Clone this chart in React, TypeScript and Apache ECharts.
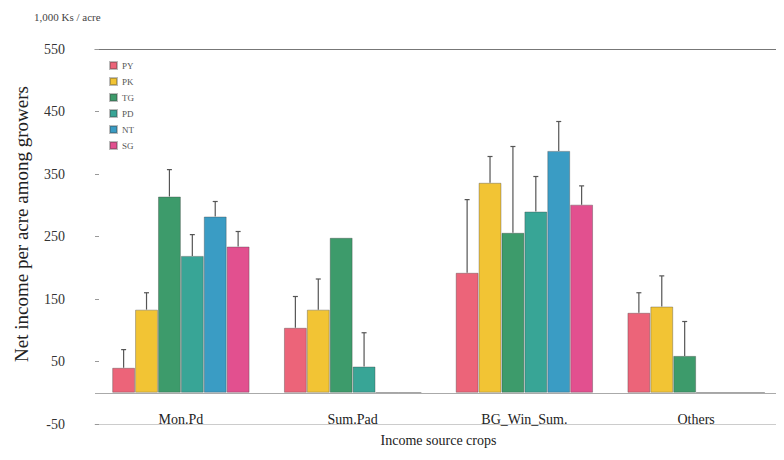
import React, { useEffect, useRef } from "react";
import * as echarts from "echarts";

const categories = ["Mon.Pd", "Sum.Pad", "BG_Win_Sum.", "Others"];
const seriesNames = ["PY", "PK", "TG", "PD", "NT", "SG"];
const colors = ["#ec6479", "#f2c434", "#3d9b6b", "#38a596", "#3a9cc4", "#e2508f"];
const yTicks = [-50, 550, 100];

// values per series, indexed by category
const PY = [40, 104, 192, 128];
const PK = [133, 133, 336, 138];
const TG = [314, 248, 256, 59];
const PD = [219, 42, 290, 0];
const NT = [282, 0, 387, 0];
const SG = [234, 0, 301, 0];
// upper end of error bars (null = none)
const PY_err = [69, 154, 309, 160];
const PK_err = [160, 182, 378, 187];
const TG_err = [357, null, 394, 114];
const PD_err = [253, 96, 346, null];
const NT_err = [306, null, 434, null];
const SG_err = [258, null, 331, null];

const values = [PY, PK, TG, PD, NT, SG];
const errs = [PY_err, PK_err, TG_err, PD_err, NT_err, SG_err];

export default function App() {
  const ref = useRef<HTMLDivElement>(null);
  useEffect(() => {
    if (!ref.current) return;
    const chart = echarts.init(ref.current, undefined, { renderer: "svg" });
    const gapFrac = 0.2;
    const errData: any[] = [];
    errs.forEach((arr, si) => {
      arr.forEach((e, ci) => {
        if (e != null) errData.push([ci, si, values[si][ci], e]);
      });
    });
    const font = "'Liberation Serif', 'DejaVu Serif', serif";
    chart.setOption({
      animation: false,
      textStyle: { fontFamily: font },
      grid: { left: 95, right: 2, top: 49, bottom: 36, outerBoundsMode: "none", containLabel: false },
      legend: {
        orient: "vertical",
        left: 104,
        top: 56,
        itemWidth: 7,
        itemHeight: 7,
        itemGap: 7,
        icon: "rect",
        textStyle: { fontSize: 9, color: "#555", fontFamily: font },
        data: seriesNames,
      },
      xAxis: [
        {
          type: "category",
          data: categories,
          axisLine: { onZero: false, show: true, lineStyle: { color: "#ccc" } },
          axisTick: { show: false },
          axisLabel: { margin: -12, fontSize: 14, color: "#222", fontFamily: font },
          name: "Income source crops",
          nameLocation: "middle",
          nameGap: 9,
          nameMoveOverlap: false,
          nameTextStyle: { fontSize: 14, color: "#222", fontFamily: font },
        },
        {
          type: "category",
          position: "top",
          data: categories,
          axisLine: { show: true, onZero: false, lineStyle: { color: "#777" } },
          axisTick: { show: false },
          axisLabel: { show: false },
        },
      ],
      yAxis: {
        type: "value",
        min: yTicks[0],
        max: yTicks[1],
        interval: yTicks[2],
        axisLine: { show: false },
        axisTick: { show: true, length: 4, inside: true, lineStyle: { color: "#999" } },
        splitLine: { show: false },
        axisLabel: { fontSize: 14, color: "#333", margin: 30, fontFamily: font },
      },
      graphic: [
        {
          type: "text",
          left: 34,
          top: 11,
          style: { text: "1,000 Ks / acre", fontSize: 11, fill: "#444", fontFamily: font },
        },
        {
          type: "text",
          x: 21,
          y: 224,
          rotation: Math.PI / 2,
          style: {
            text: "Net income per acre among growers",
            fontSize: 19,
            fill: "#222",
            fontFamily: font,
            align: "center",
            verticalAlign: "middle",
          },
        },
      ],
      series: [
        ...seriesNames.map((n, i) => ({
          name: n,
          type: "bar",
          data: values[i],
          barGap: "0%",
          barCategoryGap: gapFrac * 100 + "%",
          itemStyle: { color: colors[i], borderColor: "rgba(60,60,60,0.35)", borderWidth: 1 },
          markLine:
            i === 0
              ? {
                  silent: true,
                  symbol: "none",
                  label: { show: false },
                  lineStyle: { color: "#aaa", type: "solid", width: 1 },
                  data: [{ yAxis: 0 }],
                }
              : undefined,
        })),
        {
          type: "custom",
          data: errData,
          encode: { x: 0, y: 2 },
          z: 10,
          renderItem: (params: any, api: any) => {
            const ci = api.value(0);
            const si = api.value(1);
            const v = api.value(2);
            const e = api.value(3);
            const band = api.size([1, 0])[0];
            const bw = (band * (1 - gapFrac)) / 6;
            const c0 = api.coord([ci, v]);
            const c1 = api.coord([ci, e]);
            const x = c0[0] + (si - 2.5) * bw;
            return {
              type: "group",
              children: [
                { type: "line", shape: { x1: x, y1: c0[1], x2: x, y2: c1[1] }, style: { stroke: "#555", lineWidth: 1.2 } },
                { type: "line", shape: { x1: x - 2.5, y1: c1[1], x2: x + 2.5, y2: c1[1] }, style: { stroke: "#555", lineWidth: 1.2 } },
              ],
            };
          },
        },
      ],
    });
    return () => chart.dispose();
  }, []);
  return <div ref={ref} style={{ width: 784, height: 460, margin: -8 }} />;
}
